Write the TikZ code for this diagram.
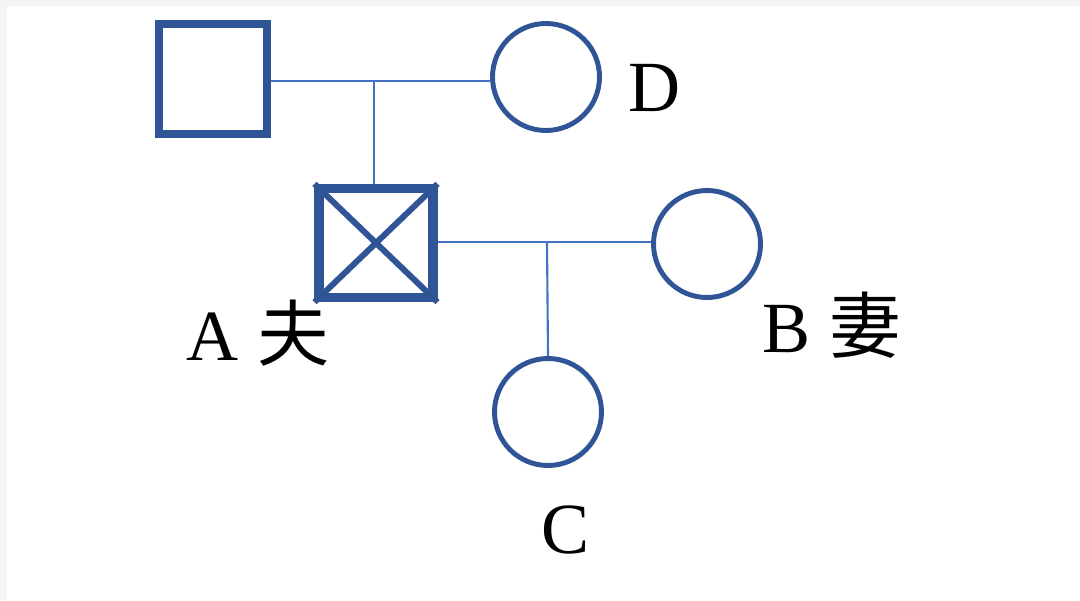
\documentclass[tikz,border=0pt]{standalone}
\usepackage{fontspec}
\setmainfont{Liberation Serif}
\newfontfamily\cjk{Noto Sans CJK SC}
\usetikzlibrary{positioning}

\definecolor{pedblue}{HTML}{2F5597}
\definecolor{linkblue}{HTML}{4472C4}
\tikzset{
  male/.style={draw=pedblue, line width=2.3pt, minimum width=1.08cm, minimum height=1.10cm, inner sep=0pt},
  female/.style={draw=pedblue, circle, line width=1.4pt, minimum size=1.07cm, inner sep=0pt},
  link/.style={draw=linkblue, line width=0.6pt},
  tag/.style={font=\fontsize{20.5}{24}\selectfont}
}

\begin{document}
\begin{tikzpicture}
    \fill[black!4] (0,0) rectangle (10.8,6);
    \fill[white] (0.07,0) rectangle (10.8,5.94);
    \useasboundingbox (0,0) rectangle (10.8,6);

    % parents
    \node[male] (father) at (2.13,5.21) {};
    \node[female] (D) at (5.46,5.23) {};
    \node[tag] (labD) at (6.55,5.12) {D};

    % A and wife B
    \node[male, line width=2.6pt, minimum width=1.14cm, minimum height=1.09cm] (A) at (3.76,3.57) {};
    \draw[pedblue, line width=1.7pt] (A.north west) -- (A.south east);
    \draw[pedblue, line width=1.7pt] (A.south west) -- (A.north east);
    \node[female] (B) at (7.07,3.56) {};
    \node[female] (C) at (5.48,1.88) {};

    \node[tag] (labA) at (2.58,2.67) {A {\cjk 夫}};
    \node[tag] (labB) at (8.32,2.75) {B {\cjk 妻}};
    \node[tag] (labC) at (5.66,0.70) {C};

    % marriage and descent lines
    \coordinate (m1) at (3.74,5.19);
    \coordinate (m2) at (5.47,3.58);
    \draw[link] (father.east |- m1) -- (D.west |- m1);
    \draw[link] (m1) -- (m1 |- A.north);
    \draw[link] (A.east |- m2) -- (B.west |- m2);
    \draw[link] (m2) -- (C.north);
\end{tikzpicture}
\end{document}
